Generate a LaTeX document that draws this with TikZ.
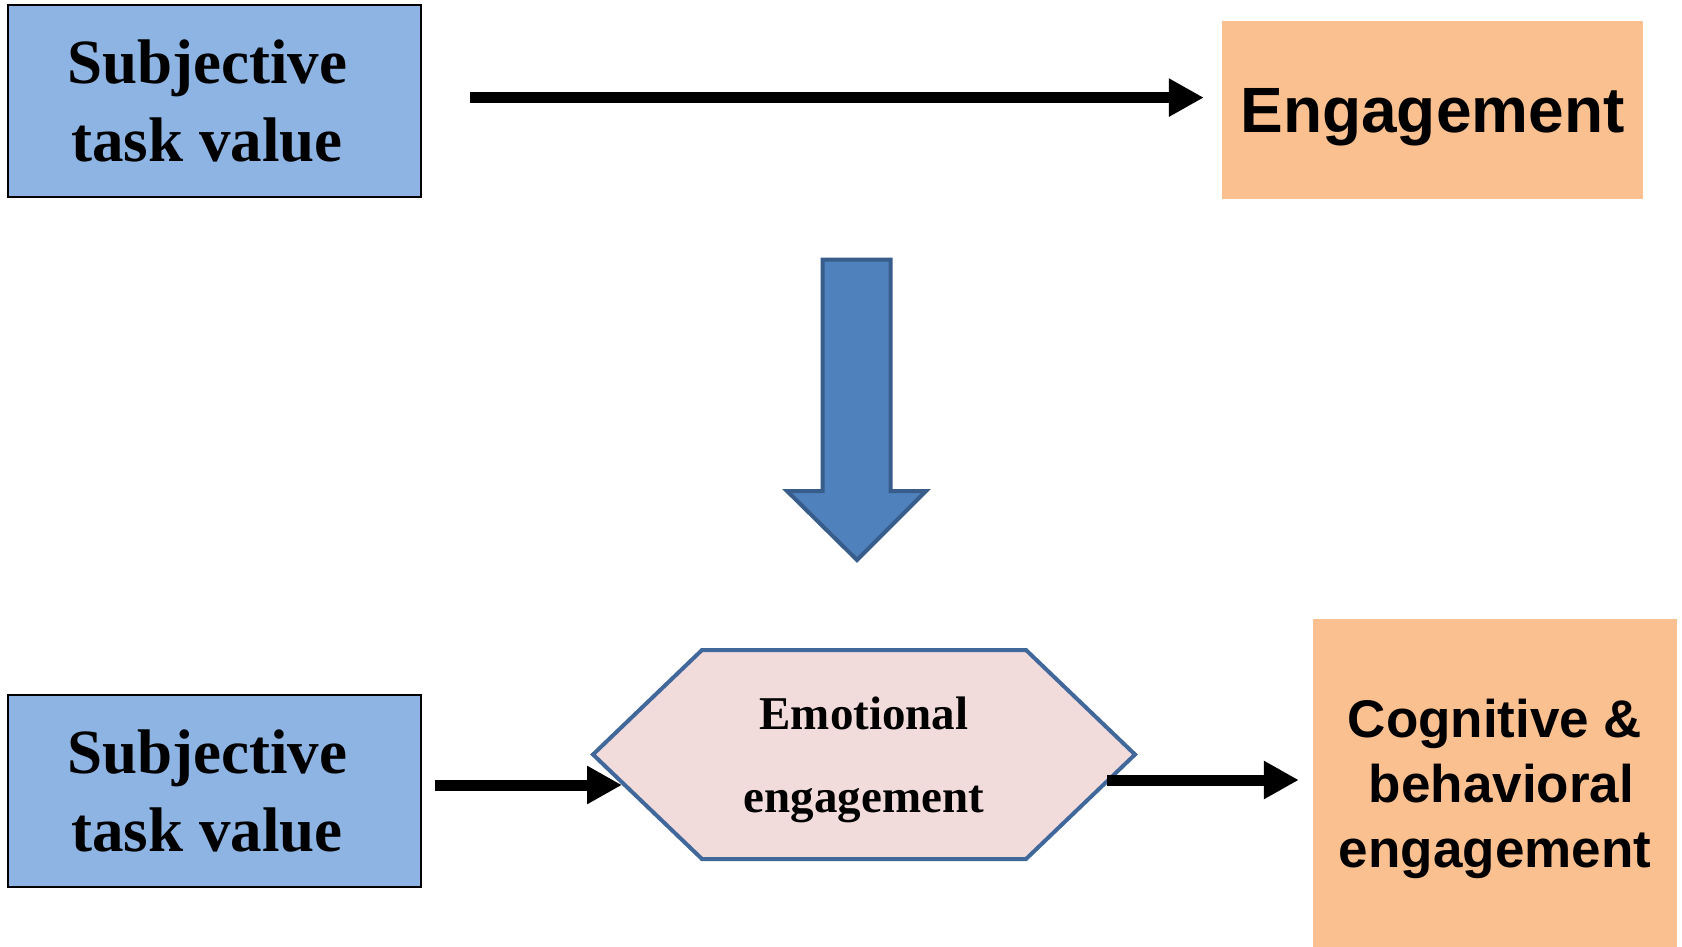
\documentclass[tikz,border=0pt]{standalone}
\usepackage{fontspec}
\setmainfont{Liberation Serif}
\newfontfamily\arialfont{Liberation Sans}
\usetikzlibrary{arrows.meta}
\definecolor{boxblue}{HTML}{8EB4E3}
\definecolor{boxorange}{HTML}{FAC090}
\definecolor{hexfill}{HTML}{F2DCDB}
\definecolor{hexline}{HTML}{41689B}
\definecolor{bigfill}{HTML}{4F81BD}
\definecolor{bigline}{HTML}{385D8A}
\begin{document}
\begin{tikzpicture}[x=1pt,y=-1pt,
  stvbox/.style={draw=black, line width=2pt, fill=boxblue, minimum width=413pt, minimum height=192pt, inner sep=0pt, align=center, font=\fontsize{63}{78}\selectfont\bfseries},
  engbox/.style={fill=boxorange, inner sep=0pt, align=center, text depth=0pt},
  hextext/.style={align=center, inner sep=0pt, font=\fontsize{47}{83}\selectfont\bfseries, text depth=0pt},
  conn/.style={line width=11pt, -{Triangle[length=35pt,width=36pt]}},
  hexshape/.style={draw=hexline, fill=hexfill, line width=4pt, line join=miter},
  bigarrow/.style={draw=bigline, fill=bigfill, line width=4pt, line join=miter}
]
\useasboundingbox (0,0) rectangle (1682,947);
\fill[white] (0,0) rectangle (1682,947);

% top row
\node[stvbox] (stv1) at (214.5,101) {Subjective\hspace*{15pt}\\task value\hspace*{15pt}};
\node[engbox, minimum width=421pt, minimum height=178pt, font=\arialfont\bfseries\fontsize{64}{77}\selectfont] (eng) at (1432.5,110) {Engagement};
\draw[conn] ([xshift=48pt,yshift=3.4pt]stv1.east) -- ([xshift=-18pt,yshift=12.4pt]eng.west);

% big block arrow
\draw[bigarrow] (822.5,259.5) -- (890.5,259.5) -- (890.5,491) -- (926,491) -- (857,560) -- (787,491) -- (822.5,491) -- cycle;

% bottom row
\node[stvbox] (stv2) at (214.5,791) {Subjective\hspace*{15pt}\\task value\hspace*{15pt}};
\coordinate (emoIn) at (622,785);
\coordinate (emoOut) at (1107,780);
\draw[conn] ([xshift=13pt,yshift=6pt]stv2.east) -- (emoIn);
\draw[hexshape] (593,754.5) -- (702,650) -- (1026,650) -- (1135,754.5) -- (1026,859) -- (702,859) -- cycle;
\node[hextext] (emo) at (864,754.5) {Emotional\\engagement};
\node[engbox, minimum width=364pt, minimum height=328pt, font=\arialfont\bfseries\fontsize{53}{65}\selectfont] (cbe) at (1495,783) {Cognitive \&\\\hspace*{13pt}behavioral\\engagement};
\draw[conn] (emoOut) -- ([xshift=-14pt,yshift=3pt]cbe.west);
\end{tikzpicture}
\end{document}
